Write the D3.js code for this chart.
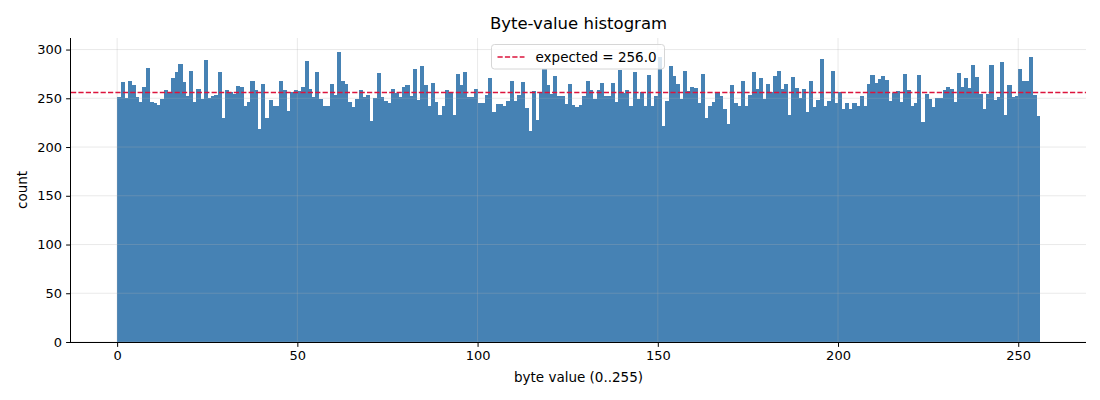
<!DOCTYPE html>
<html>
<head>
<meta charset="utf-8">
<script src="https://cdn.jsdelivr.net/npm/d3@7"></script>
<style>
  body { margin: 0; background: #fff; }
  svg { font-family: "DejaVu Sans", sans-serif; }
</style>
</head>
<body>
<svg id="chart" width="1100" height="400"></svg>
<script>
// counts per byte value 0..255
const counts = [
  251, 267, 250, 268, 264, 251, 246, 262, 281, 246, 245, 243, 249, 259, 255, 271,
  277, 285, 267, 252, 278, 246, 260, 249, 289, 250, 252, 253, 277, 230, 259, 256,
  254, 263, 262, 242, 246, 268, 259, 218, 265, 230, 248, 242, 242, 268, 258, 237,
  256, 258, 257, 262, 288, 260, 251, 277, 249, 242, 242, 265, 253, 297, 268, 265,
  246, 241, 249, 258, 251, 253, 227, 250, 276, 251, 247, 245, 260, 255, 251, 262,
  264, 252, 280, 248, 283, 264, 242, 266, 246, 233, 242, 259, 256, 233, 275, 264,
  277, 251, 251, 260, 245, 245, 253, 271, 236, 244, 244, 242, 247, 268, 247, 253,
  267, 240, 216, 257, 228, 255, 280, 264, 254, 273, 252, 252, 244, 265, 243, 241,
  243, 252, 268, 258, 249, 258, 266, 252, 252, 266, 246, 279, 255, 258, 242, 277,
  249, 256, 242, 274, 242, 252, 292, 222, 247, 283, 273, 265, 249, 278, 257, 262,
  261, 245, 275, 230, 242, 246, 256, 252, 239, 224, 264, 245, 242, 268, 242, 253,
  277, 260, 271, 249, 265, 256, 273, 278, 260, 265, 233, 272, 261, 250, 260, 236,
  268, 241, 248, 290, 242, 247, 278, 245, 256, 239, 245, 239, 245, 242, 252, 242,
  265, 274, 266, 270, 273, 269, 247, 255, 257, 246, 275, 259, 242, 245, 274, 226,
  254, 249, 241, 250, 250, 259, 262, 260, 246, 276, 262, 271, 261, 284, 272, 254,
  239, 254, 284, 248, 251, 287, 233, 264, 251, 252, 280, 268, 268, 292, 253, 232
]
const expected = 256.0
const xTicks = [0, 50, 100, 150, 200, 250]
const yTicks = [0, 50, 100, 150, 200, 250, 300]

const svg = d3.select('#chart')
const plotL = 71, plotR = 1086, plotT = 38, plotB = 342

const x = d3.scaleLinear().domain([-12.8, 268.8]).range([plotL, plotR])
const y = d3.scaleLinear().domain([0, d3.max(counts) * 1.05]).range([plotB, plotT])

// bars, crisp so neighbours don't leave hairline seams
svg.append('g')
  .attr('shape-rendering', 'crispEdges')
  .selectAll('rect')
  .data(counts)
  .enter()
  .append('rect')
  .attr('x', (d, i) => x(i))
  .attr('width', (d, i) => x(i + 1) - x(i) + 0.5)
  .attr('y', d => y(d))
  .attr('height', d => y(0) - y(d))
  .attr('fill', '#4682b4')

// grid on top, faint
const grid = svg.append('g')
  .attr('stroke', '#b0b0b0')
  .attr('stroke-opacity', 0.35)
  .attr('stroke-width', 0.8)
grid.selectAll('.gx').data(xTicks).enter().append('line')
  .attr('x1', d => x(d)).attr('x2', d => x(d))
  .attr('y1', plotT).attr('y2', plotB)
grid.selectAll('.gy').data(yTicks).enter().append('line')
  .attr('x1', plotL).attr('x2', plotR)
  .attr('y1', d => y(d)).attr('y2', d => y(d))

// expected line
svg.append('line')
  .attr('x1', plotL).attr('x2', plotR)
  .attr('y1', y(expected)).attr('y2', y(expected))
  .attr('stroke', 'crimson')
  .attr('stroke-width', 1.4)
  .attr('stroke-dasharray', '5.2,2.2')

// axes
const xAxis = svg.append('g')
  .attr('transform', `translate(0,${plotB})`)
  .call(d3.axisBottom(x).tickValues(xTicks).tickSize(4.9).tickPadding(4))
const yAxis = svg.append('g')
  .attr('transform', `translate(${plotL},0)`)
  .call(d3.axisLeft(y).tickValues(yTicks).tickSize(4.9).tickPadding(4))

;[xAxis, yAxis].forEach(a => {
  a.select('.domain').attr('stroke', '#000').attr('stroke-width', 1)
  a.selectAll('.tick line').attr('stroke', '#000').attr('stroke-width', 1)
  a.selectAll('.tick text')
    .attr('font-size', 13)
    .attr('font-family', '"DejaVu Sans", sans-serif')
    .attr('fill', '#000')
})
// keep only the axis line itself, no outer ticks sticking out
xAxis.select('.domain').attr('d', `M${plotL},0.5H${plotR}`)
yAxis.select('.domain').attr('d', `M-0.5,${plotB}V${plotT}`)

// title and labels
svg.append('text')
  .attr('x', (plotL + plotR) / 2).attr('y', 29)
  .attr('text-anchor', 'middle')
  .attr('font-size', 16.5)
  .text('Byte-value histogram')
svg.append('text')
  .attr('x', (plotL + plotR) / 2).attr('y', 382)
  .attr('text-anchor', 'middle')
  .attr('font-size', 13.5)
  .text('byte value (0..255)')
svg.append('text')
  .attr('transform', `translate(27,${(plotT + plotB) / 2}) rotate(-90)`)
  .attr('text-anchor', 'middle')
  .attr('font-size', 13.5)
  .text('count')

// legend
const lg = svg.append('g').attr('transform', 'translate(491.5,44.5)')
lg.append('rect')
  .attr('width', 173).attr('height', 24.5)
  .attr('rx', 3)
  .attr('fill', '#fff').attr('fill-opacity', 0.8)
  .attr('stroke', '#d6d6d6')
lg.append('line')
  .attr('x1', 6).attr('x2', 33)
  .attr('y1', 12.5).attr('y2', 12.5)
  .attr('stroke', 'crimson')
  .attr('stroke-width', 1.4)
  .attr('stroke-dasharray', '5.2,2.2')
lg.append('text')
  .attr('x', 44).attr('y', 17.3)
  .attr('font-size', 13.5)
  .text(`expected = ${expected.toFixed(1)}`)
</script>
</body>
</html>
